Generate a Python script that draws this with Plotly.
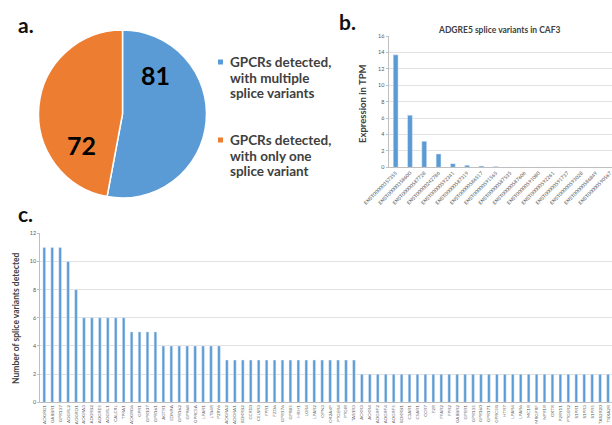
import plotly.graph_objects as go

W, H = 612, 425

# Panel a: GPCRs split by splice-variant count
pie_labels = ["GPCRs detected, with multiple splice variants",
              "GPCRs detected, with only one splice variant"]
pie_values = [81, 72]
pie_colors = ["#5B9BD5", "#ED7D31"]

# Panel b: ADGRE5 transcripts in CAF3 (TPM)
tx_ids = ["ENST00000357355", "ENST00000358600", "ENST00000587728", "ENST00000242786",
          "ENST00000592341", "ENST00000587319", "ENST00000586517", "ENST00000591565",
          "ENST00000587535", "ENST00000587606", "ENST00000591080", "ENST00000592261",
          "ENST00000591737", "ENST00000593028", "ENST00000586849", "ENST00000590567"]
tx_tpm = [13.7, 6.35, 3.17, 1.63, 0.44, 0.25, 0.15, 0.1,
          0, 0, 0, 0, 0, 0, 0, 0]

# Panel c: number of splice variants detected per GPCR
genes = ["ADGRG1", "GABBR1", "GPR137", "ADGRL2", "ADGRD1",
         "ADGRA3", "ADGRB2", "ADGRE5", "ADGRL1", "CALCRL", "TPRA1",
         "ADGRG6", "GPR1", "GPR107", "GPR161",
         "AGTR1", "EDNRA", "GPR162", "GPR68", "GPRC5A", "LPAR1", "LTB4R", "P2RY6",
         "ADGRA2", "ADORA1", "BDKRB2", "CCR10", "CELSR3", "FPR1", "FZD6", "GPR176",
         "GPR85", "HRH1", "LGR4", "LPAR2", "OPN3", "OR2A4P", "PTGER4", "PTGIR", "TAS1R3",
         "ACKR3", "ACKR4", "ADGRF2", "ADGRF4", "ADGRF5", "BDKRB1", "C3AR1", "C5AR1",
         "CCR7", "F2R", "FFAR2", "FPR2", "GABBR2", "GPER1", "GPR135", "GPR160",
         "GPR171", "GPRC5B", "HTR7", "LPAR4", "LPAR6", "MC1R", "MRGPRF", "NPY1R",
         "OXTR", "P2RY11", "PTGER2", "S1PR1", "S1PR3", "S1PR5", "TAS2R20", "TBXA2R"]
variant_counts = [11, 11, 11, 10, 8,
                  6, 6, 6, 6, 6, 6,
                  5, 5, 5, 5,
                  4, 4, 4, 4, 4, 4, 4, 4,
                  3, 3, 3, 3, 3, 3, 3, 3, 3, 3, 3, 3, 3, 3, 3, 3, 3,
                  2, 2, 2, 2, 2, 2, 2, 2, 2, 2, 2, 2, 2, 2, 2, 2,
                  2, 2, 2, 2, 2, 2, 2, 2, 2, 2, 2, 2, 2, 2, 2, 2]

BAR = "#5B9BD5"
GRID = "#E2E2E2"
AXIS = "#BFBFBF"
TXT = "#404040"
TICK = "#595959"
FONT = "Lato"


def px(x):
    return x / W


def py(y):
    return 1 - y / H


fig = go.Figure()

fig.add_trace(go.Pie(
    labels=pie_labels, values=pie_values, sort=False, direction="clockwise",
    rotation=0, textinfo="none", hoverinfo="label+value", showlegend=False,
    automargin=False,
    marker=dict(colors=pie_colors, line=dict(color="white", width=1.5)),
    domain=dict(x=[px(38.5), px(206.5)], y=[py(198), py(30)]),
))

fig.add_trace(go.Bar(
    x=tx_ids, y=tx_tpm, marker_color=BAR, xaxis="x", yaxis="y", showlegend=False,
))

fig.add_trace(go.Bar(
    x=genes, y=variant_counts, marker_color=BAR, xaxis="x2", yaxis="y2", showlegend=False,
))

axis_common = dict(showgrid=False, zeroline=False, showline=True, linecolor=AXIS,
                   linewidth=1, ticks="", fixedrange=True, automargin=False)

yaxis_common = dict(showgrid=True, gridcolor=GRID, gridwidth=1, zeroline=False,
                    showline=True, linecolor=AXIS, ticks="outside", ticklen=2,
                    tickcolor=AXIS, fixedrange=True, automargin=False, dtick=2,
                    tickfont=dict(size=5.5, color=TICK, family=FONT))

fig.update_layout(
    width=W, height=H, autosize=False,
    margin=dict(l=0, r=0, t=0, b=0, pad=0, autoexpand=False),
    paper_bgcolor="white", plot_bgcolor="white",
    font=dict(family=FONT, color=TXT),
    showlegend=False,
    bargap=0.66,
    xaxis=dict(**axis_common, domain=[px(388.5), 1], range=[-0.5, 15.13],
               type="category", tickangle=-45,
               tickfont=dict(size=5, color=TICK, family=FONT), anchor="y"),
    yaxis=dict(**yaxis_common, domain=[py(167.3), py(36)], range=[0, 16], anchor="x"),
    xaxis2=dict(**axis_common, domain=[px(40.3), 1], range=[-0.5, 71.5],
                type="category", tickangle=-90,
                tickfont=dict(size=4.6, color=TICK, family=FONT), anchor="y2"),
    yaxis2=dict(**yaxis_common, domain=[py(402.3), py(233.3)], range=[0, 12], anchor="x2"),
)

ann = []

# pie values
ann.append(dict(x=px(155), y=py(75), text=f"<b>{pie_values[0]}</b>",
                font=dict(size=25, color="#000000", family=FONT)))
ann.append(dict(x=px(81), y=py(145), text=f"<b>{pie_values[1]}</b>",
                font=dict(size=25, color="#000000", family=FONT)))

# legend for the pie
legend_lines = [["GPCRs detected,", "with multiple", "splice variants"],
                ["GPCRs detected,", "with only one", "splice variant"]]
legend_tops = [62, 140]
shapes = []
for lines, y0, col in zip(legend_lines, legend_tops, pie_colors):
    shapes.append(dict(type="rect", xref="paper", yref="paper",
                       x0=px(218), x1=px(223), y0=py(y0 + 2.5), y1=py(y0 - 2.5),
                       fillcolor=col, line=dict(width=0)))
    for i, line in enumerate(lines):
        ann.append(dict(x=px(228), y=py(y0 + i * 15.5), text=f"<b>{line}</b>",
                        xanchor="left", font=dict(size=13.5, color=TXT, family=FONT)))

# panel letters
ann.append(dict(x=px(16), y=py(24), text="<b>a.</b>", xanchor="left",
                font=dict(size=21, color="#111111", family=FONT)))
ann.append(dict(x=px(337), y=py(21), text="<b>b.</b>", xanchor="left",
                font=dict(size=21, color="#111111", family=FONT)))
ann.append(dict(x=px(16), y=py(213), text="<b>c.</b>", xanchor="left",
                font=dict(size=21, color="#111111", family=FONT)))

# panel b title and axis title
ann.append(dict(x=px(499), y=py(30), text="<b>ADGRE5 splice variants in CAF3</b>",
                font=dict(size=8.5, color=TXT, family=FONT)))
ann.append(dict(x=px(362), y=py(104), text="<b>Expression in TPM</b>", textangle=-90,
                font=dict(size=9.5, color=TXT, family=FONT)))

# panel c axis title
ann.append(dict(x=px(16), y=py(318), text="<b>Number of splice variants detected</b>",
                textangle=-90, font=dict(size=8.5, color=TXT, family=FONT)))

for a in ann:
    a.setdefault("xref", "paper")
    a.setdefault("yref", "paper")
    a.setdefault("xanchor", "center")
    a.setdefault("yanchor", "middle")
    a.setdefault("showarrow", False)

fig.update_layout(annotations=ann, shapes=shapes)

fig.write_html("out.html")
